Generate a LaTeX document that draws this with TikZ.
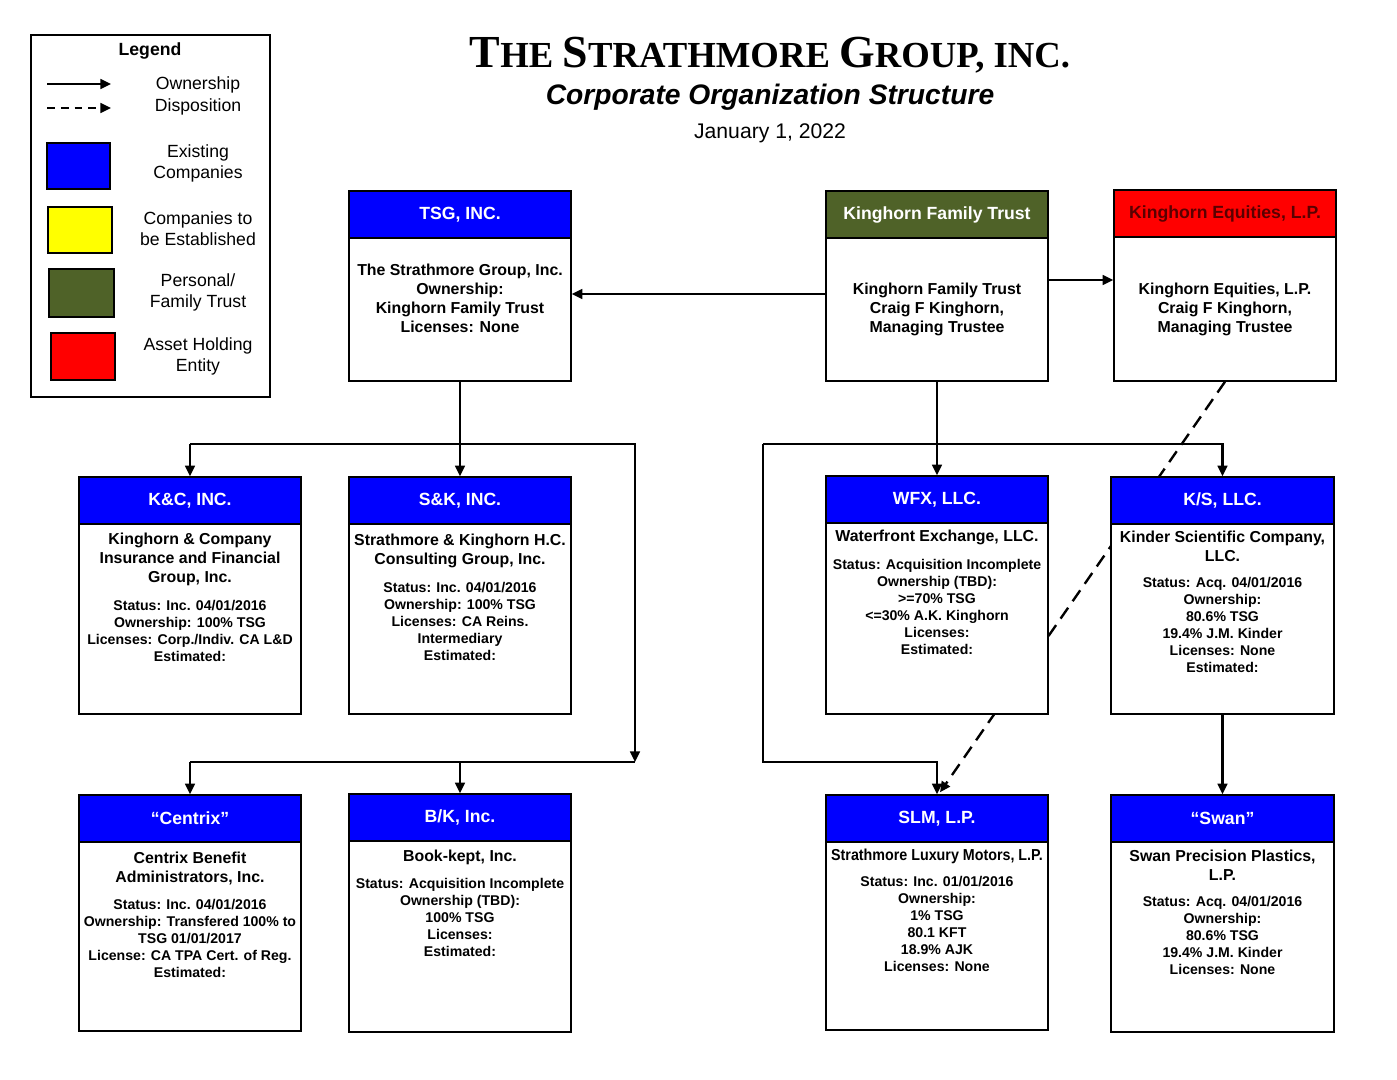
\documentclass[tikz,border=0pt]{standalone}
\usepackage{fontspec}
\setmainfont{Liberation Sans}
\newfontfamily\titlefont{Liberation Serif}
\usetikzlibrary{arrows.meta,calc,backgrounds}
\definecolor{cblue}{RGB}{0,0,255}
\definecolor{cgreen}{RGB}{79,98,40}
\definecolor{cred}{RGB}{255,0,0}
\definecolor{cyellow}{RGB}{255,255,0}
\definecolor{kedark}{RGB}{90,0,0}
\newcommand\mkbox[8]{%
  \node[boxst, minimum width={(#4-#2)*0.567pt}, minimum height={(#5-#3)*0.567pt}] (#1) at ({(#2+#4)/2},{(#3+#5)/2}) {};
  \node[headst, #7, minimum width={(#4-#2)*0.567pt}, minimum height={(#6-#3)*0.567pt}] (#1h) at (#1.north) {#8};}
\newcommand\tsc[2]{{\fontsize{26}{30}\selectfont #1}{\fontsize{20.8}{24}\selectfont #2}}
\begin{document}
\begin{tikzpicture}[x=0.567pt,y=-0.567pt,
  boxst/.style={draw, line width=0.8pt, fill=white, inner sep=0pt},
  headst/.style={draw, line width=0.8pt, anchor=north, inner sep=0pt, text=white, font=\fontsize{10}{12}\selectfont\bfseries},
  nm/.style={font=\fontsize{9}{10.8}\selectfont\bfseries, align=center, inner sep=0pt},
  dt/.style={font=\fontsize{8}{9.64}\selectfont\bfseries, align=center, inner sep=0pt},
  tp/.style={font=\fontsize{9}{10.77}\selectfont\bfseries, align=center, inner sep=0pt},
  lg/.style={font=\fontsize{10}{11.9}\selectfont, align=center, inner sep=0pt},
  swatch/.style={draw, line width=0.6pt, inner sep=0pt},
  conn/.style={line width=1.35pt, line join=miter},
  own/.style={conn, -{Triangle[length=6pt,width=5.5pt]}},
  disp/.style={own, dash pattern=on 7.5pt off 4.5pt}]
\useasboundingbox (0,0) rectangle (1397,1080);

% ---------- Title ----------
\node[inner sep=0pt, font=\titlefont\bfseries\fontsize{20.8}{24}\selectfont] (title) at (770,55) {\tsc{T}{HE} \tsc{S}{TRATHMORE} \tsc{G}{ROUP, INC.}};
\node[inner sep=0pt, font=\fontsize{16}{19}\selectfont\bfseries\itshape] (subtitle) at (770,97) {Corporate Organization Structure};
\node[inner sep=0pt, font=\fontsize{12}{14}\selectfont] (date) at (770,133) {January 1, 2022};

% ---------- Legend ----------
\node[draw, line width=0.8pt, inner sep=0pt, minimum width={239*0.567pt}, minimum height={362*0.567pt}] (legend) at (150.5,216) {};
\node[inner sep=0pt, font=\fontsize{10}{12}\selectfont\bfseries] (legtitle) at (150,51) {Legend};
\coordinate (la1) at (47,84);
\coordinate (la2) at (111,84);
\coordinate (lb1) at (47,108);
\coordinate (lb2) at (111,108);
\draw[own] (la1) -- (la2);
\draw[own, dash pattern=on 4.5pt off 3.3pt] (lb1) -- (lb2);
\node[lg] (lgown) at (198,85) {Ownership};
\node[lg] (lgdisp) at (198,107) {Disposition};
\node[swatch, fill=cblue, minimum width={63*0.567pt}, minimum height={46*0.567pt}] (swblue) at (78.5,166) {};
\node[swatch, fill=cyellow, minimum width={64*0.567pt}, minimum height={46*0.567pt}] (swyellow) at (80,230) {};
\node[swatch, fill=cgreen, minimum width={65*0.567pt}, minimum height={48*0.567pt}] (swgreen) at (81.5,293) {};
\node[swatch, fill=cred, minimum width={64*0.567pt}, minimum height={47*0.567pt}] (swred) at (83,356.5) {};
\node[lg] (lgblue) at (198,163.5) {Existing\\Companies};
\node[lg] (lgyellow) at (198,229) {Companies to\\be Established};
\node[lg] (lggreen) at (198,292) {Personal/\\Family Trust};
\node[lg] (lgred) at (198,356) {Asset Holding\\Entity};

% ---------- Boxes ----------
\mkbox{tsg}{349}{191}{571}{381}{238}{fill=cblue}{TSG, INC.}
\mkbox{kft}{826}{191}{1048}{381}{238}{fill=cgreen}{Kinghorn Family Trust}
\mkbox{ke}{1114}{190}{1336}{381}{237}{fill=cred, text=kedark}{Kinghorn Equities, L.P.}
\mkbox{kc}{79}{477}{301}{714}{524}{fill=cblue}{K\&C, INC.}
\mkbox{sk}{349}{477}{571}{714}{524}{fill=cblue}{S\&K, INC.}
\mkbox{wfx}{826}{476}{1048}{714}{523}{fill=cblue}{WFX, LLC.}
\mkbox{ks}{1111}{477}{1334}{714}{524}{fill=cblue}{K/S, LLC.}
\mkbox{cx}{79}{795}{301}{1031}{842}{fill=cblue}{“Centrix”}
\mkbox{bk}{349}{794}{571}{1032}{841}{fill=cblue}{B/K, Inc.}
\mkbox{slm}{826}{795}{1048}{1030}{842}{fill=cblue}{SLM, L.P.}
\mkbox{swan}{1111}{795}{1334}{1032}{842}{fill=cblue}{“Swan”}

% ---------- Box texts ----------
\node[tp] (tsg-t) at (460,298.5) {The Strathmore Group, Inc.\\Ownership:\\Kinghorn Family Trust\\Licenses: None};
\node[tp] (kft-t) at (937,309) {Kinghorn Family Trust\\Craig F Kinghorn,\\Managing Trustee};
\node[tp] (ke-t) at (1225,309) {Kinghorn Equities, L.P.\\Craig F Kinghorn,\\Managing Trustee};

\node[nm] (kc-n) at (190,559) {Kinghorn \& Company\\Insurance and Financial\\Group, Inc.};
\node[dt] (kc-d) at (190,630.5) {Status: Inc. 04/01/2016\\Ownership: 100\% TSG\\Licenses: Corp./Indiv. CA L\&D\\Estimated:};
\node[nm] (sk-n) at (460,550.5) {Strathmore \& Kinghorn H.C.\\Consulting Group, Inc.};
\node[dt] (sk-d) at (460,621) {Status: Inc. 04/01/2016\\Ownership: 100\% TSG\\Licenses: CA Reins.\\Intermediary\\Estimated:};
\node[nm] (wfx-n) at (937,537) {Waterfront Exchange, LLC.};
\node[dt] (wfx-d) at (937,606.5) {Status: Acquisition Incomplete\\Ownership (TBD):\\>=70\% TSG\\<=30\% A.K. Kinghorn\\Licenses:\\Estimated:};
\node[nm] (ks-n) at (1222.5,546.5) {Kinder Scientific Company,\\LLC.};
\node[dt] (ks-d) at (1222.5,624.5) {Status: Acq. 04/01/2016\\Ownership:\\80.6\% TSG\\19.4\% J.M. Kinder\\Licenses: None\\Estimated:};

\node[nm] (cx-n) at (190,868.5) {Centrix Benefit\\Administrators, Inc.};
\node[dt] (cx-d) at (190,938) {Status: Inc. 04/01/2016\\Ownership: Transfered 100\% to\\TSG 01/01/2017\\License: CA TPA Cert. of Reg.\\Estimated:};
\node[nm] (bk-n) at (460,857) {Book-kept, Inc.};
\node[dt] (bk-d) at (460,917) {Status: Acquisition Incomplete\\Ownership (TBD):\\100\% TSG\\Licenses:\\Estimated:};
\node[nm] (slm-n) at (937,856) {\scalebox{0.9}[1]{Strathmore Luxury Motors, L.P.}};
\node[dt] (slm-d) at (937,923.5) {Status: Inc. 01/01/2016\\Ownership:\\1\% TSG\\80.1 KFT\\18.9\% AJK\\Licenses: None};
\node[nm] (swan-n) at (1222.5,865.5) {Swan Precision Plastics,\\L.P.};
\node[dt] (swan-d) at (1222.5,935) {Status: Acq. 04/01/2016\\Ownership:\\80.6\% TSG\\19.4\% J.M. Kinder\\Licenses: None};

% ---------- Connectors ----------
\coordinate (tb) at (460,444);
\coordinate (tr) at (635,444);
\coordinate (tr2) at (635,762);
\coordinate (kl) at (763,444);
\coordinate (kr) at (1222.5,444);
\coordinate (kl2) at (763,762);

\draw[own] ($(kft.west)+(0,8)$) -- ($(tsg.east)+(0,8)$);
\draw[own] ($(kft.east)+(0,-6)$) -- ($(ke.west)+(0,-5.5)$);

\draw[conn] (tsg.south) -- (tb);
\draw[own] (kc.north |- tb) -- (kc.north);
\draw[own] (tb) -- (sk.north);
\draw[conn] (kc.north |- tb) -- (tb);
\draw[own] (tb) -- (tr) -- (tr2);
\draw[conn] (cx.north |- tr2) -- (tr2);
\draw[own] (cx.north |- tr2) -- (cx.north);
\draw[own] (bk.north |- tr2) -- (bk.north);

\draw[own] (kft.south) -- (wfx.north);
\draw[own] (kl) -- (kr) -- (ks.north);
\draw[own] (kl) -- (kl2) -- (slm.north |- kl2) -- (slm.north);
\draw[own] (ks.south) -- (swan.north);

\begin{pgfonlayer}{background}
\draw[disp] (ke.south) -- ($(slm.north)+(3,-2)$);
\end{pgfonlayer}
\end{tikzpicture}
\end{document}
